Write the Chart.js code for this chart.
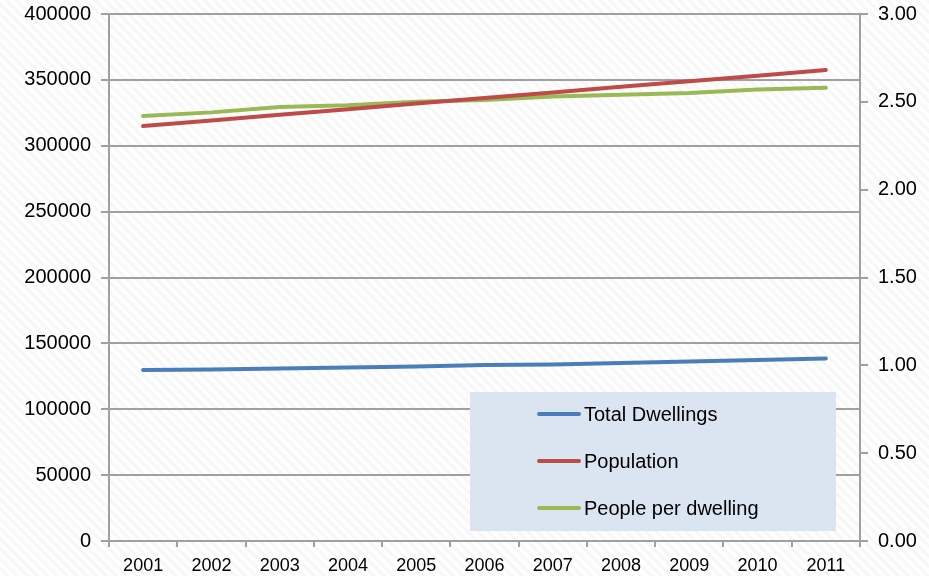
<!DOCTYPE html>
<html>
<head>
<meta charset="utf-8">
<script src="https://cdn.jsdelivr.net/npm/chart.js@4.4.1/dist/chart.umd.min.js"></script>
<style>
    html, body {
        margin: 0;
        padding: 0;
    }
    body {
        width: 929px;
        height: 576px;
        background: repeating-linear-gradient(45deg, #ffffff 0px, #ffffff 4px, #f7f7f7 4px, #f7f7f7 7px);
    }
    #wrap {
        position: relative;
        width: 929px;
        height: 576px;
    }
</style>
</head>
<body>
<div id="wrap">
    <canvas id="grafico"></canvas>
</div>
<script>
// Dados
const anos = ['2001', '2002', '2003', '2004', '2005', '2006', '2007', '2008', '2009', '2010', '2011'];
const totalDwellings = [129800, 130200, 131000, 131700, 132500, 133600, 134000, 135100, 136200, 137400, 138500];
const population = [315000, 319200, 323500, 327700, 332000, 336200, 340500, 344700, 349000, 353200, 357500];
const peoplePerDwelling = [2.42, 2.44, 2.47, 2.48, 2.50, 2.51, 2.53, 2.54, 2.55, 2.57, 2.58];

const corAzul = '#4a7ebb';
const corVermelha = '#be4b48';
const corVerde = '#98b954';
const corGrade = '#a0a0a0';

// Legenda desenhada dentro da área do gráfico
const legendaCaixa = {
    id: 'legendaCaixa',
    afterDatasetsDraw(chart) {
        const ctx = chart.ctx;
        ctx.save();
        ctx.fillStyle = '#dbe5f1';
        ctx.fillRect(470, 392, 366, 139);
        const linhasY = [414, 461, 508];
        chart.data.datasets.forEach((ds, i) => {
            const y = linhasY[i];
            ctx.strokeStyle = ds.borderColor;
            ctx.lineWidth = 4;
            ctx.lineCap = 'round';
            ctx.beginPath();
            ctx.moveTo(539, y);
            ctx.lineTo(579, y);
            ctx.stroke();
            ctx.fillStyle = '#000';
            ctx.font = '20px "Liberation Sans", Arial, sans-serif';
            ctx.textBaseline = 'middle';
            ctx.textAlign = 'left';
            ctx.fillText(ds.label, 584, y + 1);
        });
        ctx.restore();
    }
};

// Ajuste fixo das margens dos eixos verticais
function ajustarEixoY(largura) {
    return function(scale) {
        scale.width = largura;
        scale.paddingTop = 0;
        scale.paddingBottom = 0;
    };
}

const ctx = document.getElementById('grafico');

new Chart(ctx, {
    type: 'line',
    data: {
        labels: anos,
        datasets: [
            {
                label: 'Total Dwellings',
                data: totalDwellings,
                borderColor: corAzul,
                backgroundColor: corAzul,
                borderWidth: 4,
                borderCapStyle: 'round',
                pointRadius: 0,
                yAxisID: 'y'
            },
            {
                label: 'Population',
                data: population,
                borderColor: corVermelha,
                backgroundColor: corVermelha,
                borderWidth: 4,
                borderCapStyle: 'round',
                pointRadius: 0,
                yAxisID: 'y'
            },
            {
                label: 'People per dwelling',
                data: peoplePerDwelling,
                borderColor: corVerde,
                backgroundColor: corVerde,
                borderWidth: 4,
                borderCapStyle: 'round',
                pointRadius: 0,
                yAxisID: 'y1'
            }
        ]
    },
    options: {
        responsive: true,
        maintainAspectRatio: false,
        animation: false,
        layout: {
            padding: { top: 14, left: 0, right: 0, bottom: 0 }
        },
        scales: {
            x: {
                offset: true,
                grid: {
                    offset: true,
                    drawOnChartArea: false,
                    color: corGrade,
                    lineWidth: 2,
                    tickLength: 6
                },
                border: { color: corGrade, width: 2 },
                ticks: {
                    color: '#000',
                    padding: 8,
                    maxRotation: 0,
                    font: { family: '"Liberation Sans", Arial', size: 18 }
                },
                afterFit(scale) {
                    scale.height = 35;
                    scale.paddingLeft = 0;
                    scale.paddingRight = 0;
                }
            },
            y: {
                position: 'left',
                min: 0,
                max: 400000,
                ticks: {
                    stepSize: 50000,
                    color: '#000',
                    padding: 10,
                    font: { family: '"Liberation Sans", Arial', size: 20 },
                    callback: function(value) {
                        return String(value);
                    }
                },
                grid: {
                    color: corGrade,
                    lineWidth: 2,
                    tickLength: 8
                },
                border: { color: corGrade, width: 2 },
                afterFit: ajustarEixoY(109)
            },
            y1: {
                position: 'right',
                min: 0,
                max: 3,
                ticks: {
                    stepSize: 0.5,
                    color: '#000',
                    padding: 10,
                    font: { family: '"Liberation Sans", Arial', size: 20 },
                    callback: function(value) {
                        return Number(value).toFixed(2);
                    }
                },
                grid: {
                    drawOnChartArea: false,
                    color: corGrade,
                    lineWidth: 2,
                    tickLength: 8
                },
                border: { color: corGrade, width: 2 },
                afterFit: ajustarEixoY(69)
            }
        },
        plugins: {
            legend: { display: false },
            tooltip: { enabled: false }
        }
    },
    plugins: [legendaCaixa]
});
</script>
</body>
</html>
